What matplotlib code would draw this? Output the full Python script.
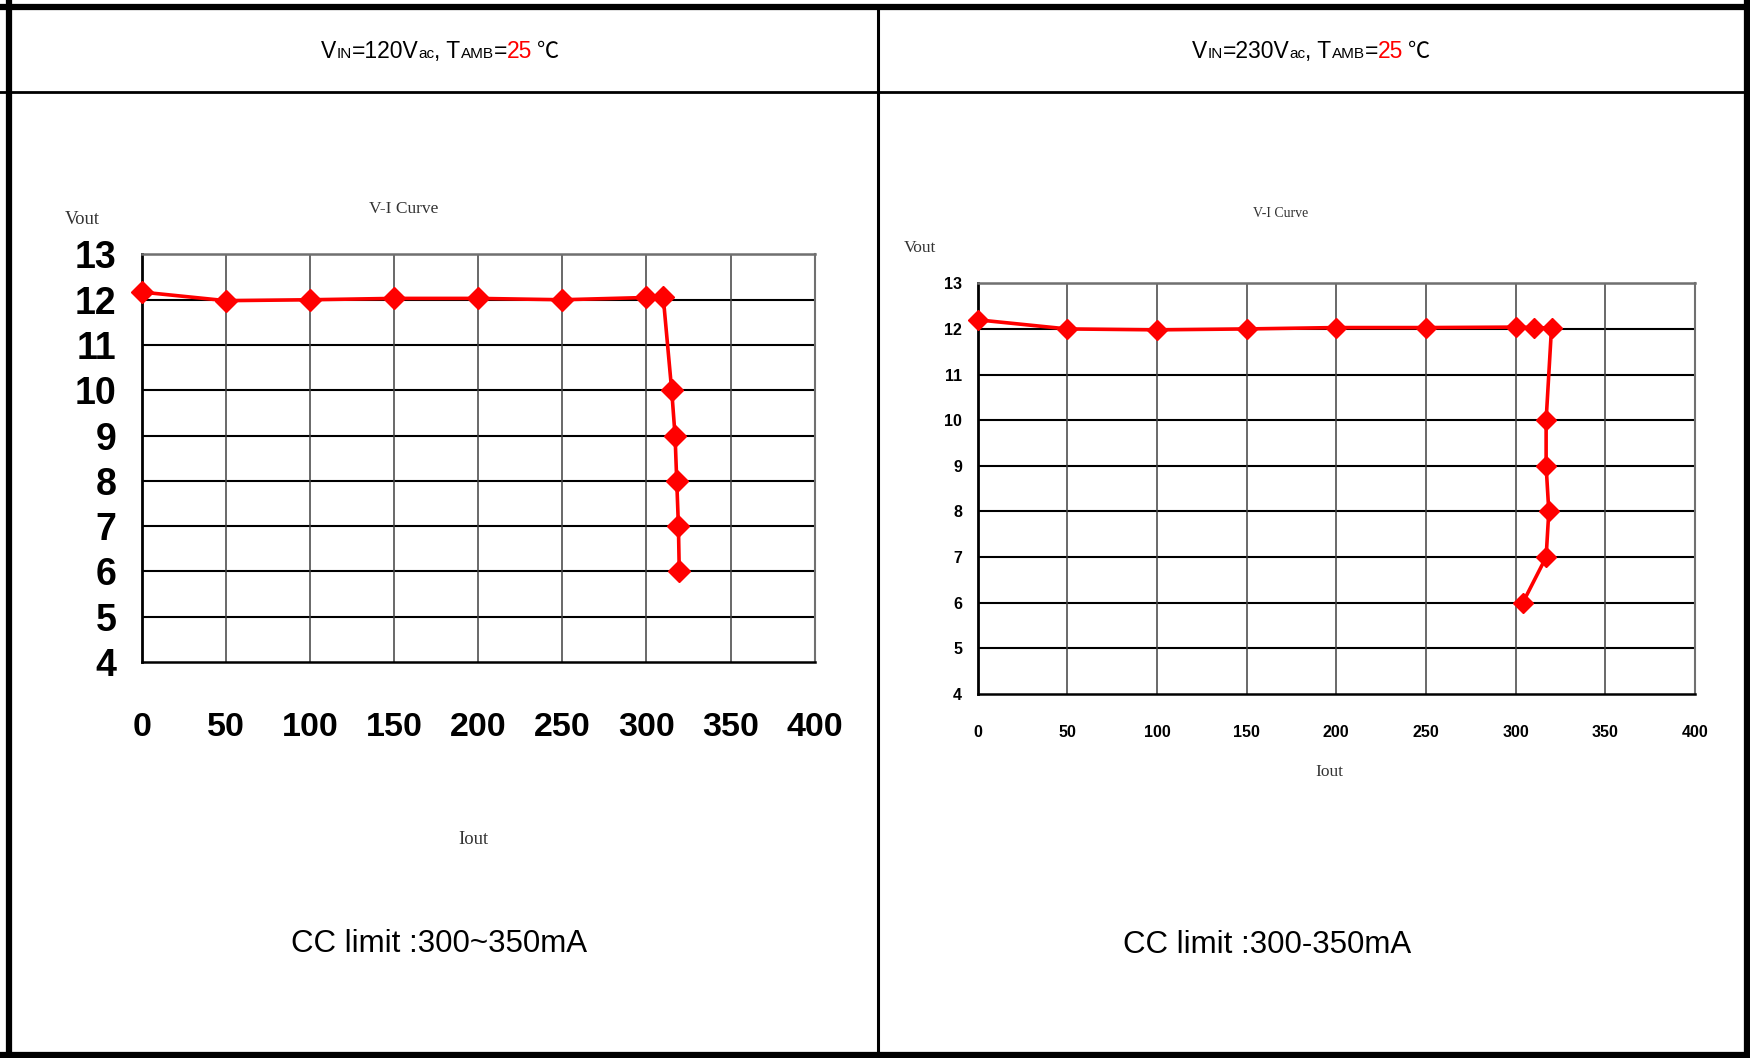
import matplotlib
matplotlib.use("Agg")
import matplotlib.pyplot as plt
from matplotlib.lines import Line2D

# data
iout_120 = [0, 50, 100, 150, 200, 250, 300, 310, 315, 317, 318, 319, 319.5]
vout_120 = [12.17, 11.98, 12.0, 12.03, 12.03, 12.0, 12.05, 12.05, 10, 9, 8, 7, 6]

iout_230 = [0, 50, 100, 150, 200, 250, 300, 310, 320, 317, 317, 318.5, 317, 304]
vout_230 = [12.2, 12.0, 11.98, 12.0, 12.03, 12.03, 12.04, 12.03, 12.02, 10, 9, 8, 7, 6]

x_ticks = [0, 50, 100, 150, 200, 250, 300, 350, 400]
y_ticks = [4, 5, 6, 7, 8, 9, 10, 11, 12, 13]

headers = [
    [("V", 16.5, "black"), ("IN", 11, "black"), ("=120V", 16.5, "black"), ("ac", 11, "black"),
     (", T", 16.5, "black"), ("AMB", 11, "black"), ("=", 16.5, "black"), ("25", 16.5, "red"), (" ℃", 16, "black")],
    [("V", 16.5, "black"), ("IN", 11, "black"), ("=230V", 16.5, "black"), ("ac", 11, "black"),
     (", T", 16.5, "black"), ("AMB", 11, "black"), ("=", 16.5, "black"), ("25", 16.5, "red"), (" ℃", 16, "black")],
]
cc_labels = ["CC limit :300~350mA", "CC limit :300-350mA"]

SANS = ["Liberation Sans", "DejaVu Sans"]
NARROW = ["Liberation Sans Narrow", "Liberation Sans", "DejaVu Sans"]
SERIF = ["Liberation Serif", "DejaVu Serif"]
CJK = ["Noto Sans CJK JP", "DejaVu Sans"]

W, H = 1750, 1058
fig = plt.figure(figsize=(W / 100, H / 100), dpi=100)
fig.patch.set_facecolor("white")


def px(x, y):
    return x / W, 1 - y / H


# frame: outer box, header line, vertical divider
fig.add_artist(Line2D([9 / W, 9 / W], [0, 1], color="black", lw=4.5, transform=fig.transFigure))
fig.add_artist(Line2D([1747 / W, 1747 / W], [0, 1], color="black", lw=4.5, transform=fig.transFigure))
fig.add_artist(Line2D([0, 1], [1 - 7 / H, 1 - 7 / H], color="black", lw=4.5, transform=fig.transFigure))
fig.add_artist(Line2D([0, 1], [1 - 1055 / H, 1 - 1055 / H], color="black", lw=4.5, transform=fig.transFigure))
fig.add_artist(Line2D([0, 1], [1 - 92 / H, 1 - 92 / H], color="black", lw=2, transform=fig.transFigure))
fig.add_artist(Line2D([878 / W, 878 / W], [0, 1 - 7 / H], color="black", lw=2.2, transform=fig.transFigure))

renderer = fig.canvas.get_renderer()


def rich_header(runs, x_start, y_base):
    x = x_start
    for s, size, color in runs:
        fam = CJK if "℃" in s else SANS
        t = fig.text(x / W, 1 - y_base / H, s, fontsize=size, color=color, family=fam,
                     va="baseline", ha="left")
        x += t.get_window_extent(renderer).width


rich_header(headers[0], 321, 58)
rich_header(headers[1], 1192, 58)


def draw_panel(rect, iout, vout, tick_font, xsize, ysize, ypad, xpad, ms, title_xy, title_size,
               vout_xy, iout_xy, label_size):
    ax = fig.add_axes(rect)
    ax.plot(iout, vout, color="red", lw=2.6, marker="D", ms=ms, mec="red", mfc="red", zorder=5,
            clip_on=False)
    ax.set_xlim(0, 400)
    ax.set_ylim(4, 13)
    ax.set_xticks(x_ticks)
    ax.set_yticks(y_ticks)
    ax.set_xticklabels([str(v) for v in x_ticks], family=tick_font, weight="bold",
                       fontsize=xsize, stretch="condensed")
    ax.set_yticklabels([str(v) for v in y_ticks], family=tick_font, weight="bold",
                       fontsize=ysize, stretch="condensed")
    ax.tick_params(axis="x", length=0, pad=xpad)
    ax.tick_params(axis="y", length=0, pad=ypad)
    for y in y_ticks[1:]:
        ax.axhline(y, color="black", lw=1.5, zorder=1)
    for x in x_ticks[1:]:
        ax.axvline(x, color="#404040", lw=1.1, zorder=1)
    ax.spines["left"].set_linewidth(2)
    ax.spines["bottom"].set_linewidth(1.8)
    ax.spines["top"].set_color("#707070")
    ax.spines["top"].set_linewidth(1.8)
    ax.spines["right"].set_color("#707070")
    ax.spines["right"].set_linewidth(1.5)
    fig.text(*px(*title_xy), "V-I Curve", family=SERIF, fontsize=title_size, ha="center",
             va="center", color="#333333")
    fig.text(*px(*vout_xy), "Vout", family=SERIF, fontsize=label_size, ha="center", va="center",
             color="#333333")
    fig.text(*px(*iout_xy), "Iout", family=SERIF, fontsize=label_size, ha="center", va="center",
             color="#333333")
    return ax


draw_panel([141.7 / W, 1 - 661.8 / H, 673 / W, 407.3 / H], iout_120, vout_120, NARROW, 24.5, 27,
           18, 36, 11, (404, 209), 12.5, (82, 219), (473, 839), 13.5)
draw_panel([977.5 / W, 1 - 694 / H, 717.5 / W, 410.7 / H], iout_230, vout_230, SANS, 11.5, 11.5,
           11, 22, 10, (1281, 214), 10, (920, 248), (1329, 772), 12.5)

fig.text(*px(438.6, 944), cc_labels[0], family=SANS, fontsize=22.5, ha="center", va="center")
fig.text(*px(1267, 945), cc_labels[1], family=SANS, fontsize=22.5, ha="center", va="center")

fig.savefig("out.png", dpi=100, facecolor="white")
